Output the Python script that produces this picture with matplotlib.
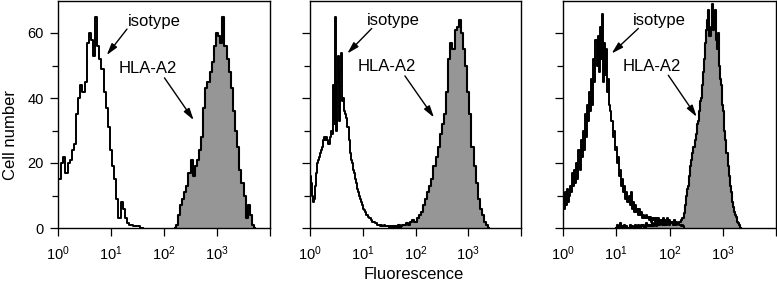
import matplotlib
matplotlib.use("Agg")
import matplotlib.pyplot as plt
import numpy as np

plt.rcParams['font.family'] = ['Liberation Sans', 'DejaVu Sans']
plt.rcParams['mathtext.default'] = 'regular'

# histogram channels: (first log10 channel, channel width in decades, counts)
iso1_start, iso1_step = 0.00, 0.04
iso1_counts = [15, 15, 20, 22, 17, 20, 21, 24, 26, 35, 40, 44, 42, 45, 57, 60, 58, 53, 65, 56,
               52, 49, 42, 37, 31, 24, 19, 15, 9, 3, 8, 6, 3, 1.5, 1, 1, 0.5, 0.5, 0.5, 0, 0]
hla1_start, hla1_step = 2.20, 0.04
hla1_counts = [0, 1, 4, 7, 9, 11, 13, 17, 21, 16, 19, 21, 24, 28, 37, 43, 45, 48, 51, 56,
               60, 59, 57, 65, 56, 52, 48, 43, 36, 30, 25, 18, 14, 10, 3, 7, 4, 1, 0]

iso2_start, iso2_step = 0.00, 0.02
iso2_counts = [16, 14, 10, 8, 9, 13, 17, 20, 21, 22, 23, 24, 25, 27, 28, 27, 28, 27, 26, 28,
               30, 29, 44, 32, 65, 30, 45, 53, 33, 48, 54, 39, 40, 36, 35, 34, 31, 27, 23, 21,
               20, 18, 17, 15, 14, 12, 11, 10, 9, 8, 7, 6, 5.5, 5, 4, 3.5, 3, 3, 2.5, 2,
               2, 2, 1.5, 1.5, 1, 1, 1, 0.5, 1, 0.5, 0.5, 1, 0.5, 0.5, 0.5, 0, 0.5, 0.5, 0, 0.5,
               0.5, 0, 0.5, 0, 0.5, 0, 0]
hla2_start, hla2_step = 1.60, 0.04
hla2_counts = [0.5, 0.5, 1, 0.5, 1, 1, 1.5, 1, 2, 2.5, 2, 3, 4, 5, 7, 9, 11, 13, 15, 19,
               22, 25, 29, 32, 35, 42, 52, 57, 55, 61, 62, 64, 60, 55, 50, 42, 35, 25, 19, 14,
               9, 6, 4, 2, 1, 0]

iso3_start, iso3_step = 0.00, 0.02
iso3_counts = [10, 6, 11, 7, 12, 8, 10, 13, 11, 17, 13, 18, 14, 20, 15, 24, 18, 27, 22, 30,
               24, 35, 28, 38, 33, 42, 36, 46, 38, 52, 45, 58, 50, 59, 48, 62, 52, 66, 45, 57,
               47, 55, 42, 46, 38, 36, 33, 28, 30, 24, 25, 20, 22, 16, 18, 13, 15, 11, 13, 9,
               11, 8, 10, 7, 11, 6, 8, 5, 7, 5, 6, 4, 6, 4, 5, 3, 4, 3, 4, 3,
               3.5, 2.5, 3.5, 2, 3, 2.5, 3, 2, 3, 2, 3, 2, 2.5, 2, 3, 2, 2.5, 2, 3, 2,
               2.5, 1.5, 2, 1.5, 2, 1, 2, 1, 1.5, 1, 1, 0.5, 1, 0.5, 0]
hla3_start, hla3_step = 1.00, 0.02
hla3_counts = [0, 1, 0, 0, 1.5, 0, 0.5, 0, 1, 0, 0.5, 0, 0, 1, 0, 0.5, 0, 0, 1, 0.5,
               0, 1, 0.5, 0, 1, 0.5, 1, 0, 1.5, 0.5, 1, 0.5, 1, 0.5, 1.5, 0.5, 1, 1.5, 0.5, 1,
               1.5, 1, 2, 1, 1.5, 1, 2, 1, 1.5, 2, 1, 2, 1.5, 2, 1, 2.5, 1.5, 2, 1.5, 2,
               2, 2.5, 3, 3, 4.5, 7, 10, 12, 13, 16, 19, 21, 23, 25, 27, 29, 32, 33, 36, 39,
               40, 44, 48, 52, 57, 61, 64, 67, 59, 62, 69, 61, 63, 67, 58, 55, 60, 50, 46, 44,
               38, 36, 30, 27, 23, 19, 16, 13, 11, 8, 6.5, 5, 4, 3.5, 2, 1.5, 1, 0]

panels = [
    (iso1_start, iso1_step, iso1_counts, hla1_start, hla1_step, hla1_counts),
    (iso2_start, iso2_step, iso2_counts, hla2_start, hla2_step, hla2_counts),
    (iso3_start, iso3_step, iso3_counts, hla3_start, hla3_step, hla3_counts),
]

# annotation anchors per panel: text (x, y), arrow tail, arrow head
iso_text = [(66, 63.5), (38, 64), (63, 63.8)]
iso_tail = [(20, 61.2), (14.8, 61.4), (26, 61.4)]
iso_head = [(8.3, 53.2), (5.1, 53.7), (8.2, 53.7)]
hla_text = [(49, 49.1), (29, 49.8), (47, 49.8)]
hla_tail = [(102, 46.2), (63, 46.8), (95, 47)]
hla_head = [(363, 33.2), (224, 34), (324, 34.2)]

xticks = [1, 10, 100, 1000, 10000]
xticklabels = ['$10^0$', '$10^1$', '$10^2$', '$10^3$', '']
yticks = [0, 20, 40, 60]
yminor = [10, 30, 50]

W, H = 777, 284
fig = plt.figure(figsize=(W / 100, H / 100), dpi=100)
lefts = [58, 310, 563]
rights = [270, 521, 776]
bottom_px, top_px = 228, 0.5

for i, (s0, st0, c0, s1, st1, c1) in enumerate(panels):
    ax = fig.add_axes([lefts[i] / W, 1 - bottom_px / H,
                       (rights[i] - lefts[i]) / W, (bottom_px - top_px) / H])
    x0 = 10 ** (s0 + st0 * np.arange(len(c0)))
    x1 = 10 ** (s1 + st1 * np.arange(len(c1)))
    ax.fill_between(x1, c1, step='mid', color='#969696', lw=0)
    ax.step(x1, c1, where='mid', color='black', lw=1.5)
    ax.step(x0, c0, where='mid', color='black', lw=1.4)

    ax.set_xscale('log')
    ax.set_xlim(1, 1e4)
    ax.set_ylim(0, 70)
    ax.set_xticks(xticks)
    ax.set_xticklabels(xticklabels)
    ax.set_yticks(yticks)
    ax.set_yticks(yminor, minor=True)
    if i == 0:
        ax.set_yticklabels([str(v) for v in yticks])
    else:
        ax.set_yticklabels([])
    ax.tick_params(which='major', length=6, width=0.9, direction='out', labelsize=10.5, pad=6)
    ax.tick_params(which='minor', length=4.5, width=0.9, direction='out')
    ax.tick_params(axis='y', which='major', pad=4)
    for sp in ax.spines.values():
        sp.set_linewidth(1.0)

    ax.text(*iso_text[i], 'isotype', ha='center', va='center', fontsize=12)
    ax.text(*hla_text[i], 'HLA-A2', ha='center', va='center', fontsize=12)
    arrow = dict(arrowstyle='-|>,head_length=0.7,head_width=0.2', color='black', lw=1.0,
                 shrinkA=0, shrinkB=0)
    ax.annotate('', xy=iso_head[i], xytext=iso_tail[i], arrowprops=arrow)
    ax.annotate('', xy=hla_head[i], xytext=hla_tail[i], arrowprops=arrow)

fig.text(11 / W, 1 - 135 / H, 'Cell number', rotation=90, ha='center', va='center', fontsize=12)
fig.text(414 / W, 1 - 279 / H, 'Fluorescence', ha='center', va='baseline', fontsize=12)

fig.savefig('out.png', dpi=100)
